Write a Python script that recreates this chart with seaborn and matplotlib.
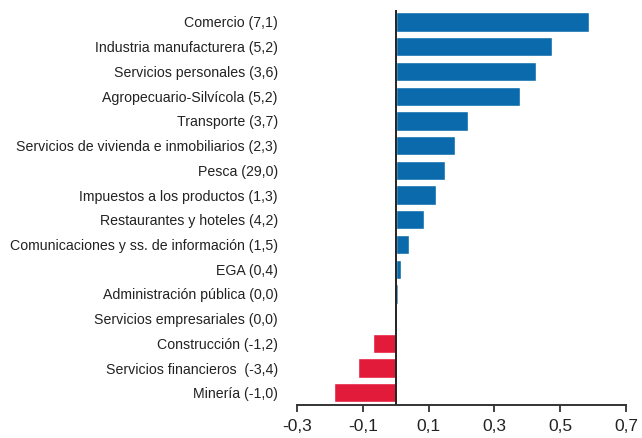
import numpy as np
import pandas as pd
import matplotlib
matplotlib.use("Agg")
import matplotlib.pyplot as plt
import seaborn as sns
from matplotlib import font_manager
from matplotlib.ticker import FuncFormatter

# sector labels (top to bottom) and contribution values
sectores = [
    "Comercio (7,1)",
    "Industria manufacturera (5,2)",
    "Servicios personales (3,6)",
    "Agropecuario-Silvícola (5,2)",
    "Transporte (3,7)",
    "Servicios de vivienda e inmobiliarios (2,3)",
    "Pesca (29,0)",
    "Impuestos a los productos (1,3)",
    "Restaurantes y hoteles (4,2)",
    "Comunicaciones y ss. de información (1,5)",
    "EGA (0,4)",
    "Administración pública (0,0)",
    "Servicios empresariales (0,0)",
    "Construcción (-1,2)",
    "Servicios financieros  (-3,4)",
    "Minería (-1,0)",
]
valores = [0.588, 0.476, 0.426, 0.377, 0.219, 0.179, 0.151, 0.121,
           0.086, 0.04, 0.016, 0.008, 0.002, -0.069, -0.115, -0.189]
x_ticks = [-0.3, -0.1, 0.1, 0.3, 0.5, 0.7]

azul = "#0a6aab"
rojo = "#e31b3b"

df = pd.DataFrame({"sector": sectores, "valor": valores})
colores = [azul if v >= 0 else rojo for v in df.valor]

sns.set_style("white")
# condensed font if present, otherwise Liberation Sans
names = {f.name for f in font_manager.fontManager.ttflist}
if "Liberation Sans Narrow" in names:
    fam, ysize, xsize = "Liberation Sans Narrow", 11.5, 13
else:
    fam, ysize, xsize = "Liberation Sans", 10.2, 12.5
plt.rcParams["font.family"] = [fam, "DejaVu Sans"]

fig = plt.figure(figsize=(6.42, 4.38), dpi=100)
ax = fig.add_axes([0.463, 0.075, 0.512, 0.903])

sns.barplot(data=df, x="valor", y="sector", hue="sector", palette=colores,
            legend=False, width=0.78, orient="h", ax=ax, saturation=1)

ax.set_xlim(-0.3, 0.7)
ax.set_ylim(15.5, -0.5)
ax.set_xticks(x_ticks)
ax.xaxis.set_major_formatter(FuncFormatter(lambda v, p: f"{v:.1f}".replace(".", ",")))
ax.set_xlabel("")
ax.set_ylabel("")

# vertical line at zero
ax.axvline(0, color="#222222", linewidth=1.4)

# only the bottom axis visible
for s in ["top", "right", "left"]:
    ax.spines[s].set_visible(False)
ax.spines["bottom"].set_color("#333333")
ax.spines["bottom"].set_linewidth(1.4)
ax.tick_params(axis="x", direction="out", length=5, width=1.3, color="#333333",
               labelsize=xsize, pad=5, bottom=True)
ax.tick_params(axis="y", length=0, labelsize=ysize, pad=14)
for t in ax.get_yticklabels() + ax.get_xticklabels():
    t.set_color("#222222")

plt.savefig("out.png", dpi=100)
